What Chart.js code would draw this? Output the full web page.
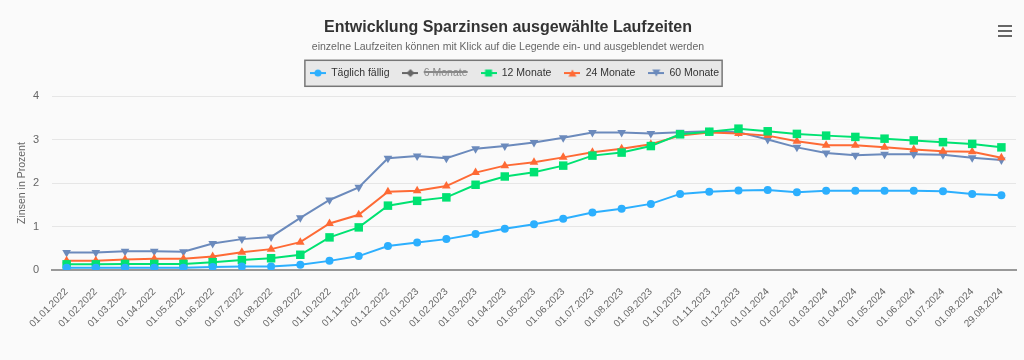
<!DOCTYPE html>
<html lang="de">
<head>
<meta charset="utf-8">
<title>Entwicklung Sparzinsen ausgewählte Laufzeiten</title>
<script src="https://cdn.jsdelivr.net/npm/chart.js@4/dist/chart.umd.min.js"></script>
<style>
  html, body { margin: 0; padding: 0; background: #fafafa; }
  #wrap { width: 1024px; height: 360px; position: relative; }
</style>
</head>
<body>
<div id="wrap"><canvas id="zinsChart"></canvas></div>
<script>
// Stichtage
var dates = ["01.01.2022","01.02.2022","01.03.2022","01.04.2022","01.05.2022","01.06.2022",
  "01.07.2022","01.08.2022","01.09.2022","01.10.2022","01.11.2022","01.12.2022",
  "01.01.2023","01.02.2023","01.03.2023","01.04.2023","01.05.2023","01.06.2023",
  "01.07.2023","01.08.2023","01.09.2023","01.10.2023","01.11.2023","01.12.2023",
  "01.01.2024","01.02.2024","01.03.2024","01.04.2024","01.05.2024","01.06.2024",
  "01.07.2024","01.08.2024","29.08.2024"];

// Zinssaetze in Prozent
var taeglich = [0.05,0.05,0.05,0.05,0.05,0.07,0.08,0.08,0.12,0.21,0.32,0.55,
  0.63,0.71,0.83,0.95,1.05,1.18,1.32,1.41,1.52,1.75,1.80,1.83,
  1.84,1.79,1.82,1.82,1.82,1.82,1.81,1.75,1.72];
var monate6 = []; // Reihe ist ausgeblendet
var monate12 = [0.13,0.13,0.14,0.14,0.14,0.18,0.23,0.27,0.35,0.75,0.98,1.48,
  1.59,1.67,1.96,2.15,2.25,2.40,2.63,2.70,2.85,3.12,3.18,3.25,
  3.19,3.13,3.09,3.06,3.02,2.98,2.94,2.90,2.82];
var monate24 = [0.21,0.21,0.24,0.26,0.26,0.31,0.41,0.48,0.64,1.07,1.27,1.80,
  1.82,1.93,2.24,2.40,2.48,2.59,2.71,2.79,2.89,3.09,3.16,3.14,
  3.09,2.96,2.87,2.87,2.82,2.77,2.73,2.72,2.58];
var monate60 = [0.40,0.40,0.43,0.43,0.42,0.61,0.71,0.76,1.20,1.61,1.90,2.57,
  2.62,2.57,2.79,2.85,2.93,3.04,3.16,3.16,3.14,3.17,3.19,3.17,
  3.00,2.82,2.69,2.64,2.66,2.66,2.65,2.58,2.53];
var yTicks = [0, 1, 2, 3, 4];

var fontFam = "'Liberation Sans', Arial, sans-serif";

// kleine Legendensymbole: Linie + Marker
function legendIcon(color, shape) {
  var c = document.createElement('canvas');
  c.width = 16; c.height = 10;
  var g = c.getContext('2d');
  g.strokeStyle = color; g.fillStyle = color; g.lineWidth = 2;
  g.beginPath(); g.moveTo(0, 5); g.lineTo(16, 5); g.stroke();
  g.beginPath();
  if (shape === 'circle') g.arc(8, 5, 3.5, 0, Math.PI * 2);
  else if (shape === 'diamond') { g.moveTo(8, 1); g.lineTo(12, 5); g.lineTo(8, 9); g.lineTo(4, 5); }
  else if (shape === 'square') g.rect(4.5, 1.5, 7, 7);
  else if (shape === 'triangle') { g.moveTo(8, 1.5); g.lineTo(12, 8.5); g.lineTo(4, 8.5); }
  else { g.moveTo(4, 1.5); g.lineTo(12, 1.5); g.lineTo(8, 8.5); }
  g.closePath(); g.fill();
  return c;
}
var icons = [
  legendIcon('#2caffe', 'circle'),
  legendIcon('#666666', 'diamond'),
  legendIcon('#00e272', 'square'),
  legendIcon('#fe6a35', 'triangle'),
  legendIcon('#6b8abc', 'down')
];

function series(label, data, color, style, radius, rot, hidden) {
  return {
    label: label, data: data, borderColor: color, backgroundColor: color,
    pointStyle: style, pointRadius: radius, pointHoverRadius: radius,
    pointRotation: rot || 0, pointBorderWidth: 0, borderWidth: 2,
    tension: 0, fill: false, hidden: !!hidden
  };
}

var extras = {
  id: 'extras',
  beforeDraw: function(chart) {
    var ctx = chart.ctx;
    ctx.save();
    ctx.fillStyle = '#fafafa';
    ctx.fillRect(0, 0, chart.width, chart.height);
    // Rahmen um die Legende
    var hb = chart.legend.legendHitBoxes;
    if (hb && hb.length) {
      var first = hb[0], last = hb[hb.length - 1];
      var x0 = first.left - 5, x1 = last.left + last.width + 3;
      var y0 = first.top - 7.5, y1 = first.top + first.height + 8;
      ctx.fillStyle = '#e8e8e8';
      ctx.fillRect(x0, y0, x1 - x0, y1 - y0);
      ctx.strokeStyle = '#777';
      ctx.lineWidth = 1.5;
      ctx.strokeRect(x0, y0, x1 - x0, y1 - y0);
    }
    ctx.restore();
  },
  afterDraw: function(chart) {
    // Menue-Symbol oben rechts
    var ctx = chart.ctx;
    ctx.save();
    ctx.strokeStyle = '#666';
    ctx.lineWidth = 2;
    [26, 31, 36].forEach(function(y) {
      ctx.beginPath(); ctx.moveTo(998, y); ctx.lineTo(1012, y); ctx.stroke();
    });
    ctx.restore();
  },
  afterLayout: function(chart) {
    // Legende etwas nach rechts, wie im Original
    chart.legend.left += 6.5;
    chart.legend.right += 6.5;
  },
  afterInit: function(chart) {
    // Abstand zwischen Legende und Diagramm
    var lg = chart.legend;
    var fit = lg.fit.bind(lg);
    lg.fit = function() { fit(); this.height += 7.75; };
  }
};

var zinsChart = new Chart(document.getElementById('zinsChart'), {
  type: 'line',
  data: {
    labels: dates,
    datasets: [
      series('Täglich fällig', taeglich, '#2caffe', 'circle', 4),
      series('6 Monate', monate6, '#544fc5', 'rectRot', 4.5, 0, true),
      series('12 Monate', monate12, '#00e272', 'rect', 6),
      series('24 Monate', monate24, '#fe6a35', 'triangle', 5),
      series('60 Monate', monate60, '#6b8abc', 'triangle', 5, 180)
    ]
  },
  options: {
    responsive: true,
    maintainAspectRatio: false,
    animation: false,
    layout: { padding: { left: 0, right: 8, top: 0, bottom: 0 } },
    plugins: {
      title: {
        display: true,
        text: 'Entwicklung Sparzinsen ausgewählte Laufzeiten',
        color: '#333',
        font: { family: fontFam, size: 16, weight: 'bold' },
        padding: { top: 18, bottom: 0 }
      },
      subtitle: {
        display: true,
        text: 'einzelne Laufzeiten können mit Klick auf die Legende ein- und ausgeblendet werden',
        color: '#666',
        font: { family: fontFam, size: 10.5 },
        padding: { top: 3.5, bottom: 1.5 }
      },
      legend: {
        position: 'top',
        labels: {
          usePointStyle: true,
          pointStyleWidth: 16,
          padding: 13,
          color: '#333',
          font: { family: fontFam, size: 10.5 },
          generateLabels: function(chart) {
            var items = Chart.defaults.plugins.legend.labels.generateLabels(chart);
            items.forEach(function(it) {
              it.pointStyle = icons[it.datasetIndex];
              it.rotation = 0;
              it.fontColor = it.hidden ? '#888' : '#333';
            });
            return items;
          }
        }
      },
      tooltip: { enabled: false }
    },
    scales: {
      x: {
        offset: true,
        grid: { display: false },
        border: { display: true, color: '#999', width: 2 },
        ticks: {
          color: '#666',
          font: { family: fontFam, size: 10 },
          minRotation: 45, maxRotation: 45,
          autoSkip: false,
          padding: 8
        },
        afterFit: function(scale) { scale.height = 90; }
      },
      y: {
        min: 0, max: 4,
        afterBuildTicks: function(scale) {
          scale.ticks = yTicks.map(function(v) { return { value: v }; });
        },
        grid: { color: '#e6e6e6', drawTicks: false },
        border: { display: false },
        ticks: {
          color: '#666',
          font: { family: fontFam, size: 11 },
          padding: 13
        },
        title: {
          display: true,
          text: 'Zinsen in Prozent',
          color: '#666',
          font: { family: fontFam, size: 10.5 },
          padding: { top: 15.7, bottom: 0 }
        },
        afterFit: function(scale) { scale.width = 52; }
      }
    }
  },
  plugins: [extras]
});
</script>
</body>
</html>
